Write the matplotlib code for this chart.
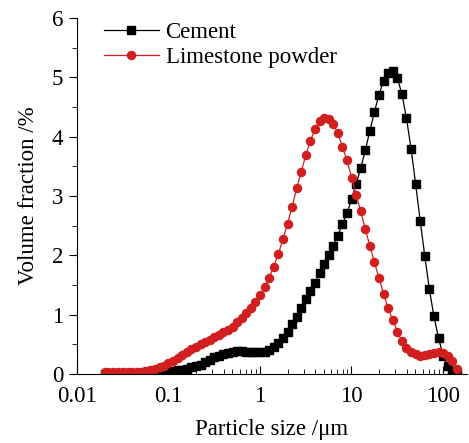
import matplotlib
matplotlib.use('Agg')
import matplotlib.pyplot as plt
from matplotlib.ticker import LogLocator, NullFormatter, MultipleLocator

plt.rcParams['font.family'] = ['Liberation Serif', 'DejaVu Serif']

# particle size classes (um), laser diffraction channels
size = [0.020, 0.022, 0.025, 0.028, 0.032, 0.036, 0.040, 0.045, 0.050, 0.056,
        0.063, 0.071, 0.080, 0.089, 0.100, 0.112, 0.126, 0.142, 0.159, 0.178,
        0.200, 0.224, 0.252, 0.283, 0.317, 0.356, 0.399, 0.448, 0.502, 0.564,
        0.632, 0.710, 0.796, 0.893, 1.002, 1.125, 1.262, 1.416, 1.589, 1.783,
        2.000, 2.244, 2.518, 2.825, 3.170, 3.557, 3.991, 4.477, 5.024, 5.637,
        6.325, 7.096, 7.962, 8.934, 10.024, 11.247, 12.619, 14.159, 15.887, 17.825,
        20.000, 22.440, 25.179, 28.251, 31.698, 35.566, 39.905, 44.774, 50.238, 56.368,
        63.246, 70.963, 79.621, 89.337, 100.237, 112.468, 126.191, 141.589]

cement = [0, 0, 0, 0, 0, 0, 0, 0, 0, 0,
          0, 0, 0.005, 0.015, 0.03, 0.045, 0.06, 0.075, 0.09, 0.11,
          0.13, 0.16, 0.20, 0.24, 0.28, 0.31, 0.34, 0.36, 0.375, 0.38,
          0.38, 0.375, 0.37, 0.365, 0.365, 0.375, 0.40, 0.45, 0.52, 0.61,
          0.71, 0.84, 0.96, 1.11, 1.26, 1.40, 1.53, 1.70, 1.85, 2.00,
          2.16, 2.33, 2.53, 2.71, 2.95, 3.20, 3.47, 3.77, 4.10, 4.42,
          4.71, 4.94, 5.08, 5.10, 4.99, 4.72, 4.31, 3.80, 3.20, 2.58,
          1.99, 1.43, 0.97, 0.61, 0.31, 0.13, 0.05, 0.02]

limestone = [0.03, 0.03, 0.03, 0.03, 0.03, 0.03, 0.03, 0.035, 0.04, 0.05,
             0.06, 0.08, 0.11, 0.14, 0.18, 0.22, 0.27, 0.32, 0.37, 0.42,
             0.46, 0.50, 0.54, 0.58, 0.62, 0.66, 0.70, 0.75, 0.80, 0.87,
             0.95, 1.03, 1.12, 1.22, 1.33, 1.46, 1.62, 1.81, 2.03, 2.27,
             2.53, 2.82, 3.13, 3.41, 3.69, 3.93, 4.13, 4.26, 4.31, 4.30,
             4.21, 4.06, 3.83, 3.60, 3.31, 3.02, 2.74, 2.44, 2.16, 1.88,
             1.61, 1.35, 1.11, 0.91, 0.71, 0.55, 0.44, 0.37, 0.33, 0.31,
             0.32, 0.33, 0.35, 0.37, 0.36, 0.31, 0.22, 0.09]

fig = plt.figure(figsize=(4.69, 4.43), dpi=100)
ax = fig.add_axes([77/469, 69/443, 390/469, 356/443])

ax.plot(size, cement, color='black', marker='s', markersize=5.2, linewidth=0.9,
        label='Cement')
ax.plot(size, limestone, color='#d11f1f', marker='o', markersize=5.8, linewidth=0.9,
        label='Limestone powder')

ax.set_xscale('log')
ax.set_xlim(0.01, 183)
ax.set_ylim(0, 6)
ax.xaxis.set_minor_locator(LogLocator(base=10, subs=range(2, 10), numticks=20))
ax.xaxis.set_minor_formatter(NullFormatter())
ax.set_xticks([0.01, 0.1, 1, 10, 100])
ax.set_xticklabels(['0.01', '0.1', '1', '10', '100'])
ax.yaxis.set_major_locator(MultipleLocator(1))
ax.yaxis.set_minor_locator(MultipleLocator(0.5))

ax.spines['top'].set_visible(False)
ax.spines['right'].set_visible(False)
ax.tick_params(axis='x', which='both', direction='in', labelsize=16.5, pad=9)
ax.tick_params(axis='x', which='major', length=6)
ax.tick_params(axis='x', which='minor', length=3.5)
ax.tick_params(axis='y', which='both', direction='out', labelsize=16.5, pad=4)
ax.tick_params(axis='y', which='major', length=6)
ax.tick_params(axis='y', which='minor', length=3.5)

ax.set_xlabel('Particle size /\u03bcm', fontsize=16.5, labelpad=8)
ax.set_ylabel('Volume fraction /%', fontsize=16.5, labelpad=9)

ax.legend(loc='upper left', bbox_to_anchor=(0.045, 1.015), frameon=False, fontsize=16.5,
          handlelength=2.4, handletextpad=0.3, labelspacing=0.2, borderaxespad=0)

fig.savefig('out.png', dpi=100)
